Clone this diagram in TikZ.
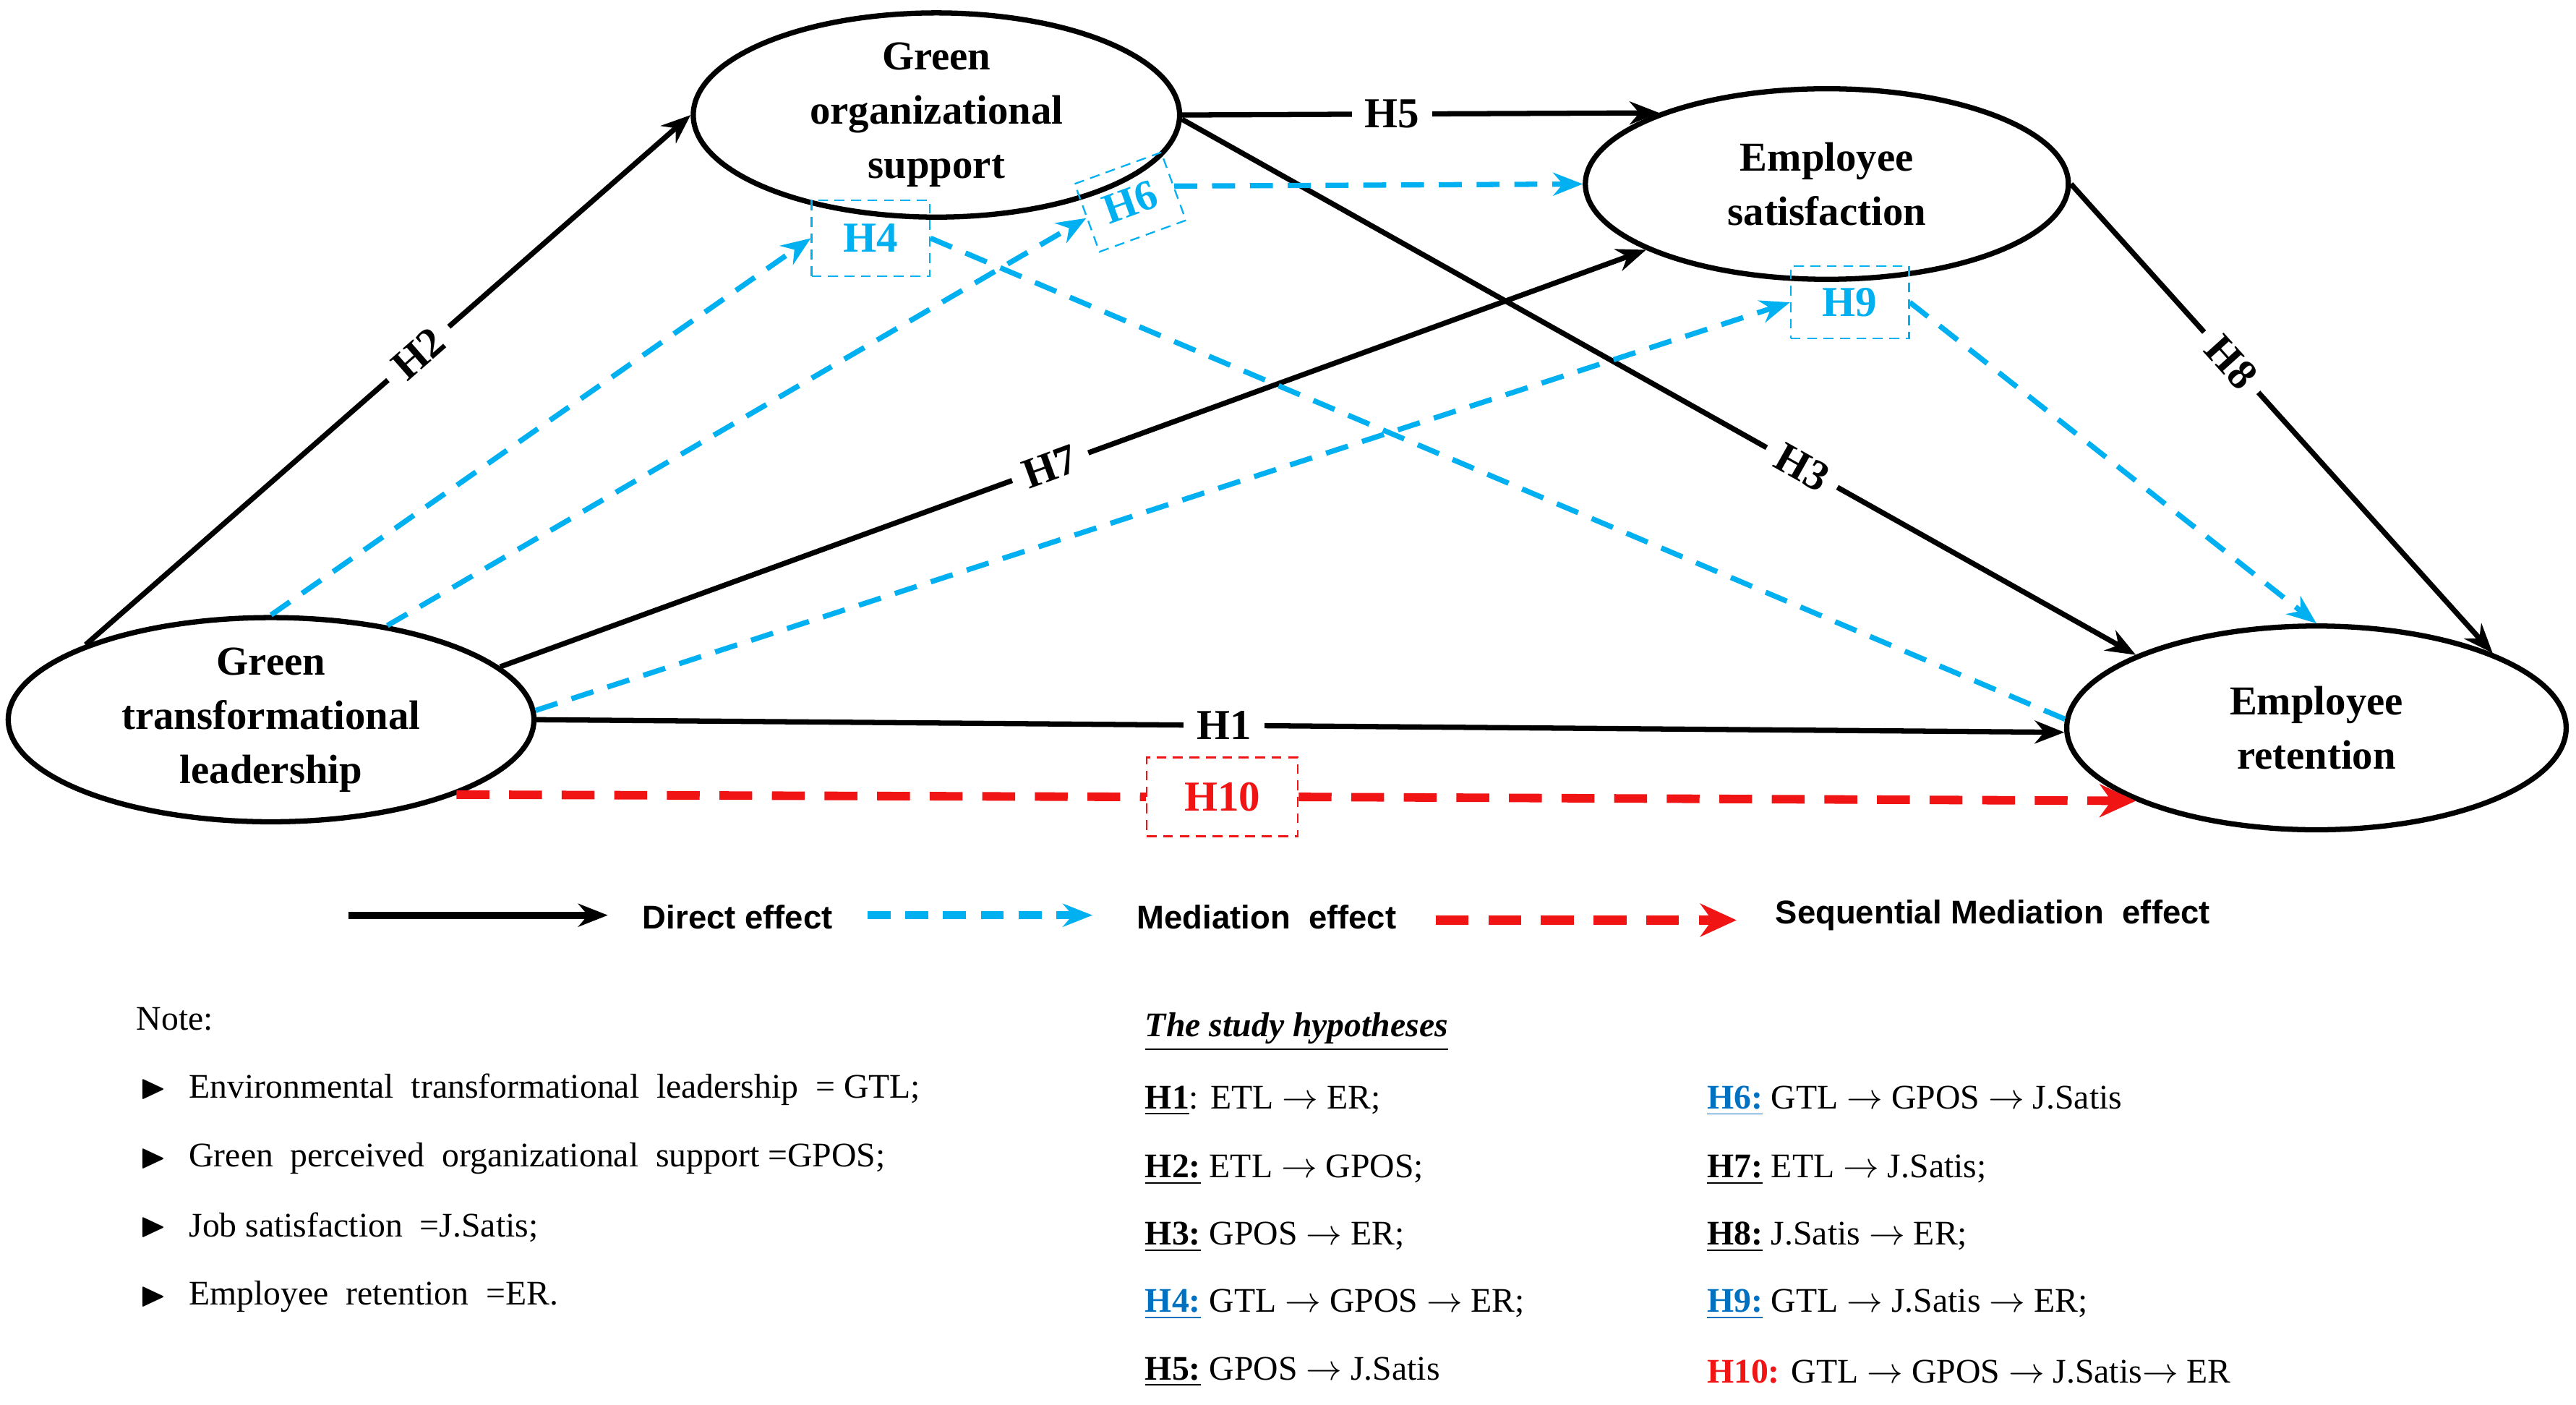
\documentclass[tikz,border=0pt]{standalone}
\usepackage{amssymb}
\usepackage{fontspec}
\setmainfont{Liberation Serif}
\newfontfamily\legendfont{Liberation Sans}
\usetikzlibrary{shapes.geometric,arrows.meta,positioning}
\definecolor{medblue}{RGB}{0,176,240}
\definecolor{seqred}{RGB}{240,20,20}
\definecolor{hypblue}{RGB}{0,112,192}
\tikzset{
  construct/.style={ellipse,draw,line width=1.6pt,inner sep=0pt,align=center,
    font=\fontsize{12.5}{16.5}\selectfont\bfseries},
  direct/.style={line width=1.6pt,-{Stealth[length=9pt,width=7pt]}},
  mediation/.style={medblue,line width=1.6pt,dash pattern=on 7pt off 4.5pt,-{Stealth[length=9pt,width=7pt]}},
  sequential/.style={seqred,line width=2.6pt,dash pattern=on 10pt off 6pt,-{Stealth[length=11pt,width=10pt]}},
  hlabel/.style={fill=white,inner sep=4pt,font=\fontsize{13}{13}\selectfont\bfseries},
  hbox/.style={draw,densely dashed,line width=0.5pt,font=\fontsize{13}{13}\selectfont\bfseries,inner sep=0pt},
  notetext/.style={anchor=west,font=\fontsize{10.5}{10.5}\selectfont},
  hyptext/.style={anchor=west,font=\fontsize{10.5}{10.5}\selectfont}
}
\begin{document}
\begin{tikzpicture}[x=0.5pt,y=-0.5pt]
\useasboundingbox (0,0) rectangle (1568,855);

% constructs
\node[construct,minimum width=160pt,minimum height=62pt] (gtl) at (165,438) {Green\\transformational\\leadership};
\node[construct,minimum width=148pt,minimum height=58pt] (gos) at (570,70) {Green\\organizational\\support};
\node[construct,minimum width=147pt,minimum height=58pt] (es) at (1112,112) {Employee\\satisfaction};
\node[construct,minimum width=152pt,minimum height=62pt] (er) at (1410,443) {Employee\\retention};

% mediation boxes
\node[hbox,medblue,minimum width=36pt,minimum height=23pt] (h4box) at (530,145) {H4};
\node[hbox,medblue,minimum width=28pt,minimum height=22pt,rotate=20] (h6box) at (688,123) {H6};
\node[hbox,medblue,minimum width=36pt,minimum height=22pt] (h9box) at (1126,184) {H9};
\node[hbox,seqred,minimum width=46pt,minimum height=24pt] (h10box) at (744,485) {H10};

% direct effects
\draw[direct] (gtl.158) -- node[hlabel,sloped,pos=0.55] {H2} (gos.180);
\draw[direct] (gos.0) -- node[hlabel,pos=0.44] {H5} (es.157);
\draw[direct] (gos.359) -- node[hlabel,sloped,pos=0.65] {H3} (er.158);
\draw[direct] (gtl.13) -- node[hlabel,sloped,pos=0.48] {H7} (es.200);
\draw[direct] (es.0) -- node[hlabel,sloped,pos=0.38] {H8} (er.23);
\draw[direct] (gtl.0) -- node[hlabel,pos=0.45] {H1} (er.181);

% mediation effects
\draw[mediation] (gtl.90) -- (h4box.west);
\draw[mediation,-] (h4box.east) -- (er.178);
\draw[mediation] (gtl.39) -- (h6box.west);
\draw[mediation] (h6box.east) -- (es.180);
\draw[mediation] (gtl.2) -- (h9box.west);
\draw[mediation] (h9box.east) -- (er.90);

% sequential mediation
\draw[sequential,-] (gtl.338) -- (h10box.west);
\draw[sequential] (h10box.east) -- (er.202);

% legend
\coordinate (l1a) at (212,557); \coordinate (l1b) at (370,557);
\coordinate (l2a) at (528,557); \coordinate (l2b) at (665,557);
\coordinate (l3a) at (874,560); \coordinate (l3b) at (1057,560);
\draw[direct,line width=2.2pt] (l1a) -- (l1b);
\draw[mediation,line width=2.4pt] (l2a) -- (l2b);
\draw[sequential,line width=3pt] (l3a) -- (l3b);
\node[font=\legendfont\fontsize{10}{10}\selectfont\bfseries] (leg1) at (449,558) {Direct effect};
\node[font=\legendfont\fontsize{10}{10}\selectfont\bfseries] (leg2) at (771,558) {Mediation\ \ effect};
\node[font=\legendfont\fontsize{10}{10}\selectfont\bfseries] (leg3) at (1213,557) {Sequential Mediation\ \ effect};

% note
\node[notetext] (note) at (76,620) {Note:};
\foreach \y/\t in {663/{Environmental\ \ transformational\ \ leadership\ \ = GTL;},
                   705/{Green\ \ perceived\ \ organizational\ \ support =GPOS;},
                   747/{Job\ satisfaction\ \ =J.Satis;},
                   789/{Employee\ \ retention\ \ =ER.}}{
  \node[notetext] at (78,\y) {$\blacktriangleright$};
  \node[notetext] at (108,\y) {\t};
}

% hypotheses
\node[hyptext] (hyp) at (690,628) {\textbf{\textit{\underline{The study hypotheses}}}};
\foreach \y/\t in {670/{\textbf{\underline{H1}}: ETL $\rightarrow$ ER;},
                   712/{\textbf{\underline{H2:}} ETL $\rightarrow$ GPOS;},
                   753/{\textbf{\underline{H3:}} GPOS $\rightarrow$ ER;},
                   794/{\textcolor{hypblue}{\textbf{\underline{H4:}}} GTL $\rightarrow$ GPOS $\rightarrow$ ER;},
                   835/{\textbf{\underline{H5:}} GPOS $\rightarrow$ J.Satis}}{
  \node[hyptext] at (690,\y) {\t};
}
\foreach \y/\t in {670/{\textcolor{hypblue}{\textbf{\underline{H6:}}} GTL $\rightarrow$ GPOS $\rightarrow$ J.Satis},
                   712/{\textbf{\underline{H7:}} ETL $\rightarrow$ J.Satis;},
                   753/{\textbf{\underline{H8:}} J.Satis $\rightarrow$ ER;},
                   794/{\textcolor{hypblue}{\textbf{\underline{H9:}}} GTL $\rightarrow$ J.Satis $\rightarrow$ ER;},
                   835/{\textcolor{seqred}{\textbf{H10:}} GTL $\rightarrow$ GPOS $\rightarrow$ J.Satis$\rightarrow$ ER}}{
  \node[hyptext] at (1032,\y) {\t};
}
\end{tikzpicture}
\end{document}
